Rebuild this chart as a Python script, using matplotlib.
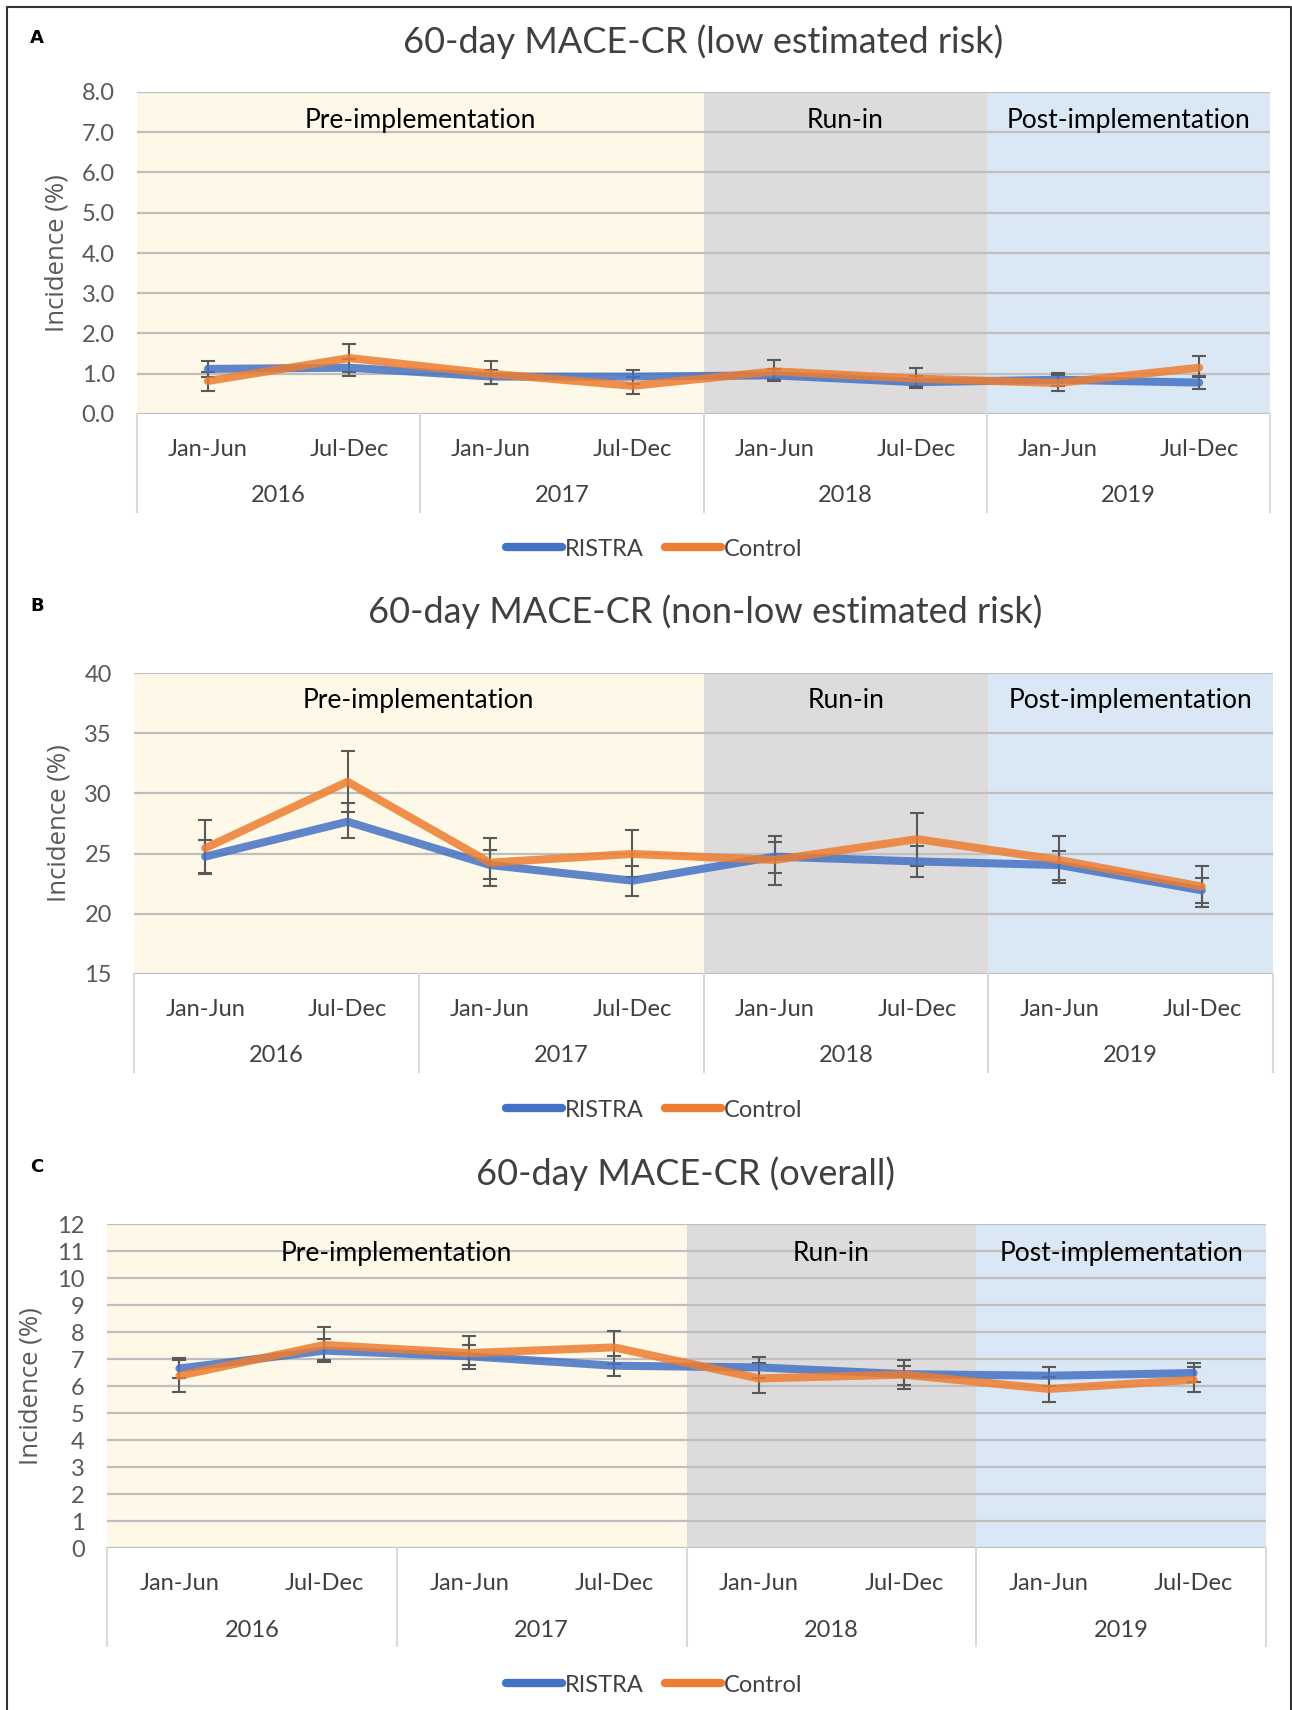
import matplotlib
matplotlib.use("Agg")
import matplotlib.pyplot as plt
from matplotlib.lines import Line2D
import numpy as np

plt.rcParams['font.family'] = ['Lato', 'DejaVu Sans']

months = ["Jan-Jun", "Jul-Dec"] * 4
years = ["2016", "2017", "2018", "2019"]
periods = ["Pre-implementation", "Run-in", "Post-implementation"]

# panel A - low estimated risk
ristra_a = [1.12, 1.15, 0.93, 0.93, 0.96, 0.79, 0.85, 0.78]
ristra_a_lo = [0.92, 0.94, 0.74, 0.75, 0.81, 0.64, 0.70, 0.62]
ristra_a_hi = [1.32, 1.36, 1.09, 1.10, 1.12, 0.95, 1.03, 0.95]
control_a = [0.82, 1.39, 1.00, 0.70, 1.06, 0.88, 0.77, 1.15]
control_a_lo = [0.58, 1.05, 0.75, 0.49, 0.86, 0.70, 0.58, 0.92]
control_a_hi = [1.04, 1.75, 1.32, 0.92, 1.35, 1.14, 0.98, 1.43]

# panel B - non-low estimated risk
ristra_b = [24.75, 27.65, 24.05, 22.75, 24.75, 24.35, 24.05, 21.95]
ristra_b_lo = [23.3, 26.27, 22.3, 21.48, 23.41, 23.08, 22.8, 20.87]
ristra_b_hi = [26.13, 29.18, 25.3, 23.97, 25.99, 25.63, 25.24, 23.0]
control_b = [25.45, 30.97, 24.25, 24.97, 24.47, 26.2, 24.47, 22.26]
control_b_lo = [23.4, 28.43, 22.87, 23.08, 22.39, 24.0, 22.58, 20.6]
control_b_hi = [27.8, 33.5, 26.27, 26.96, 26.46, 28.35, 26.46, 24.0]

# panel C - overall
ristra_c = [6.65, 7.31, 7.10, 6.75, 6.69, 6.44, 6.38, 6.48]
ristra_c_lo = [6.28, 6.90, 6.63, 6.36, 6.30, 6.04, 6.01, 6.16]
ristra_c_hi = [7.02, 7.74, 7.52, 7.10, 7.06, 6.98, 6.69, 6.84]
control_c = [6.38, 7.52, 7.22, 7.43, 6.28, 6.42, 5.89, 6.23]
control_c_lo = [5.79, 6.95, 6.78, 6.80, 5.74, 5.89, 5.42, 5.79]
control_c_hi = [6.95, 8.18, 7.85, 8.05, 6.85, 6.75, 6.32, 6.70]

W, H = 1292, 1710
fig = plt.figure(figsize=(W / 100, H / 100), dpi=100)

BLUE = '#4472C4'
ORANGE = '#ED7D31'
TXT = '#404040'
shade = [(-0.5, 3.5, '#FDF8E7'), (3.5, 5.5, '#DDDBDB'), (5.5, 7.5, '#DAE7F4')]


def panel(letter, box, title, title_xy, letter_y, ylab_off, ticks, fmt, ylim,
          r, r_lo, r_hi, c, c_lo, c_hi, leg_y):
    left, top, right, bottom = box
    ax = fig.add_axes([left / W, 1 - bottom / H, (right - left) / W, (bottom - top) / H])
    hpx = bottom - top
    x = np.arange(8)
    for a, b, col in shade:
        ax.axvspan(a, b, color=col, zorder=0, lw=0)
    for t in ticks:
        ax.axhline(t, color='#BFBFBF', lw=1.6, zorder=1)
    for vals, lo, hi, col in [(r, r_lo, r_hi, BLUE), (c, c_lo, c_hi, ORANGE)]:
        vals = np.array(vals)
        err = [vals - np.array(lo), np.array(hi) - vals]
        ax.errorbar(x, vals, yerr=err, fmt='none', ecolor='#595959', elinewidth=1.5,
                    capsize=5, capthick=1.5, zorder=2)
        ax.plot(x, vals, color=col, lw=5.8, alpha=0.85, solid_capstyle='round', zorder=3)
    ax.set_xlim(-0.5, 7.5)
    ax.set_ylim(*ylim)
    ax.set_yticks(ticks)
    ax.set_yticklabels([fmt % t for t in ticks], fontsize=17, color='#595959')
    ax.tick_params(axis='y', length=0, pad=16)
    ax.set_xticks([])
    for s in ax.spines.values():
        s.set_visible(False)
    ax.set_ylabel("Incidence (%)", family=['Open Sans', 'DejaVu Sans'], fontsize=18.5, color='#595959')
    ax.yaxis.set_label_coords(-ylab_off / (right - left), 0.5)
    for i, p in enumerate(periods):
        ax.text([1.5, 4.5, 6.5][i], 0.91, p, transform=ax.get_xaxis_transform(),
                ha='center', va='center', fontsize=19, color='black', zorder=4)
    tr = ax.get_xaxis_transform()
    for xb in [-0.5, 1.5, 3.5, 5.5, 7.5]:
        ax.plot([xb, xb], [0, -98 / hpx], transform=tr, color='#D9D9D9', lw=1.5, clip_on=False)
    for i, m in enumerate(months):
        ax.text(i, -35 / hpx, m, transform=tr, ha='center', va='center', fontsize=17, color=TXT)
    for i, yr in enumerate(years):
        ax.text(2 * i + 0.5, -82 / hpx, yr, transform=tr, ha='center', va='center', fontsize=17, color=TXT)
    fig.text(title_xy[0] / W, 1 - title_xy[1] / H, title, ha='center', va='center', fontsize=26, color=TXT)
    fig.text(37 / W, 1 - letter_y / H, letter, ha='center', va='center', fontsize=13,
             fontweight='bold', family=['DejaVu Sans'])
    handles = [Line2D([], [], color=BLUE, lw=6, solid_capstyle='round'),
               Line2D([], [], color=ORANGE, lw=6, solid_capstyle='round')]
    fig.legend(handles, ["RISTRA", "Control"], loc='center', bbox_to_anchor=(654 / W, 1 - leg_y / H),
               ncol=2, frameon=False, fontsize=17, handlelength=2.4, handletextpad=0.1,
               columnspacing=0.9, labelcolor=TXT)
    return ax


panel("A", (137, 92, 1270, 414), "60-day MACE-CR (low estimated risk)", (703, 42), 38, 68,
      np.arange(0, 9, 1.0), '%.1f', (0, 8),
      ristra_a, ristra_a_lo, ristra_a_hi, control_a, control_a_lo, control_a_hi, 549)
panel("B", (134, 673, 1273, 974), "60-day MACE-CR (non-low estimated risk)", (705, 612), 606, 62,
      np.arange(15, 41, 5), '%d', (15, 40),
      ristra_b, ristra_b_lo, ristra_b_hi, control_b, control_b_lo, control_b_hi, 1110)
panel("C", (107, 1224, 1266, 1548), "60-day MACE-CR (overall)", (686, 1174), 1167, 63,
      np.arange(0, 13, 1), '%d', (0, 12),
      ristra_c, ristra_c_lo, ristra_c_hi, control_c, control_c_lo, control_c_hi, 1685)

# outer frame
fig.add_artist(Line2D([7 / W, 7 / W, 1291 / W, 1291 / W], [0, 1 - 7 / H, 1 - 7 / H, 0],
                      color='#333333', lw=1.5))

fig.savefig("out.png", dpi=100)
